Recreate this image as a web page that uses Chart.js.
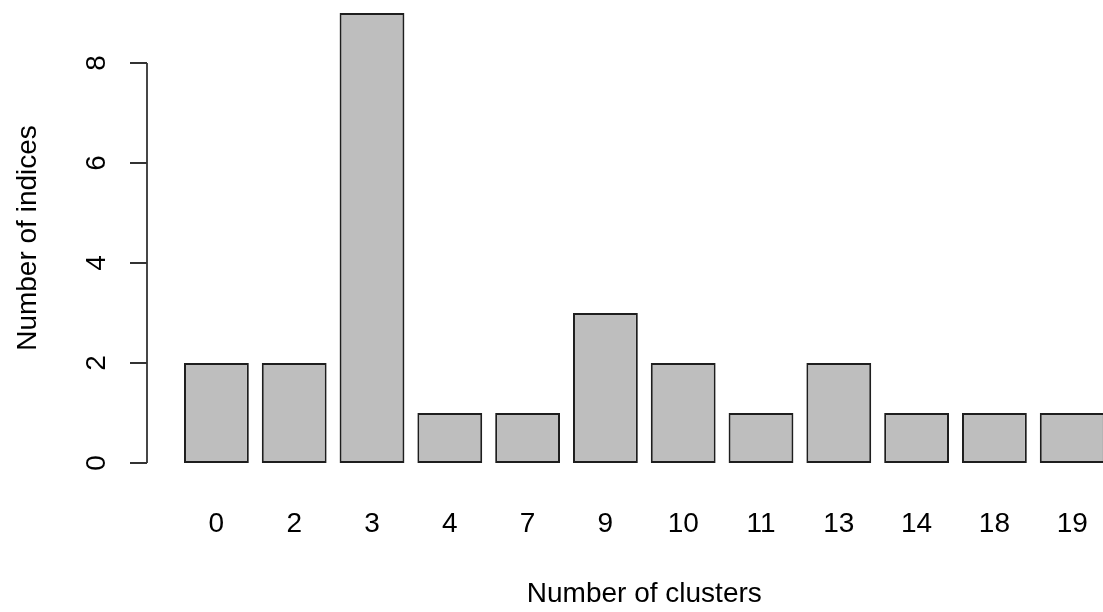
<!DOCTYPE html>
<html>
<head>
<meta charset="utf-8">
<script src="https://cdn.jsdelivr.net/npm/chart.js@4"></script>
<style>
  html, body { margin: 0; padding: 0; background: #fff; overflow: hidden; }
  #chart { position: absolute; left: 0; top: 0; }
</style>
</head>
<body>
<canvas id="chart" width="1116" height="612"></canvas>
<script>
const clusters = ["0", "2", "3", "4", "7", "9", "10", "11", "13", "14", "18", "19"];
const indices = [2, 2, 9, 1, 1, 3, 2, 1, 2, 1, 1, 1];
const yTicks = [0, 2, 4, 6, 8];

const FONT = "'Liberation Sans', Arial, sans-serif";
const FSIZE = 28;

// R style y axis: line only from first to last tick, sits left of the bars
const rAxis = {
  id: "rAxis",
  afterDraw(chart) {
    const ctx = chart.ctx;
    const y = chart.scales.y;
    const axX = 147;
    ctx.save();
    ctx.strokeStyle = "#333";
    ctx.lineWidth = 1.8;
    ctx.beginPath();
    ctx.moveTo(axX, y.getPixelForValue(yTicks[0]));
    ctx.lineTo(axX, y.getPixelForValue(yTicks[yTicks.length - 1]));
    for (const t of yTicks) {
      const py = y.getPixelForValue(t);
      ctx.moveTo(axX, py);
      ctx.lineTo(axX - 17, py);
    }
    ctx.stroke();

    ctx.fillStyle = "#000";
    ctx.font = FSIZE + "px " + FONT;
    ctx.textAlign = "center";
    ctx.textBaseline = "alphabetic";
    for (const t of yTicks) {
      const py = y.getPixelForValue(t);
      ctx.save();
      ctx.translate(105, py);
      ctx.rotate(-Math.PI / 2);
      ctx.fillText(String(t), 0, 0);
      ctx.restore();
    }
    // y title
    ctx.save();
    ctx.translate(36, y.getPixelForValue(4.5));
    ctx.rotate(-Math.PI / 2);
    ctx.fillText("Number of indices", 0, 0);
    ctx.restore();
    ctx.restore();
  }
};

new Chart("chart", {
  type: "bar",
  data: {
    labels: clusters,
    datasets: [{
      data: indices,
      backgroundColor: "#bebebe",
      borderColor: "#1e1e1e",
      borderWidth: 2,
      borderSkipped: false,
      categoryPercentage: 1,
      barPercentage: 1 / 1.2
    }]
  },
  options: {
    responsive: false,
    animation: false,
    layout: { padding: { left: 177.5, right: 4.9, top: 13, bottom: 0 } },
    plugins: { legend: { display: false }, tooltip: { enabled: false } },
    scales: {
      x: {
        // invisible tick marks push the labels down without widening the side padding
        grid: { display: true, drawOnChartArea: false, drawTicks: true, tickLength: 44, color: "rgba(0,0,0,0)" },
        border: { display: false },
        ticks: { color: "#000", font: { family: FONT, size: FSIZE }, padding: 0 },
        title: {
          display: true,
          text: "Number of clusters",
          color: "#000",
          font: { family: FONT, size: FSIZE },
          padding: { top: 0, bottom: 1 }
        },
        afterFit(scale) { scale.height = 149; }
      },
      y: {
        display: false,
        min: 0,
        max: 9
      }
    }
  },
  plugins: [rAxis]
});
</script>
</body>
</html>
